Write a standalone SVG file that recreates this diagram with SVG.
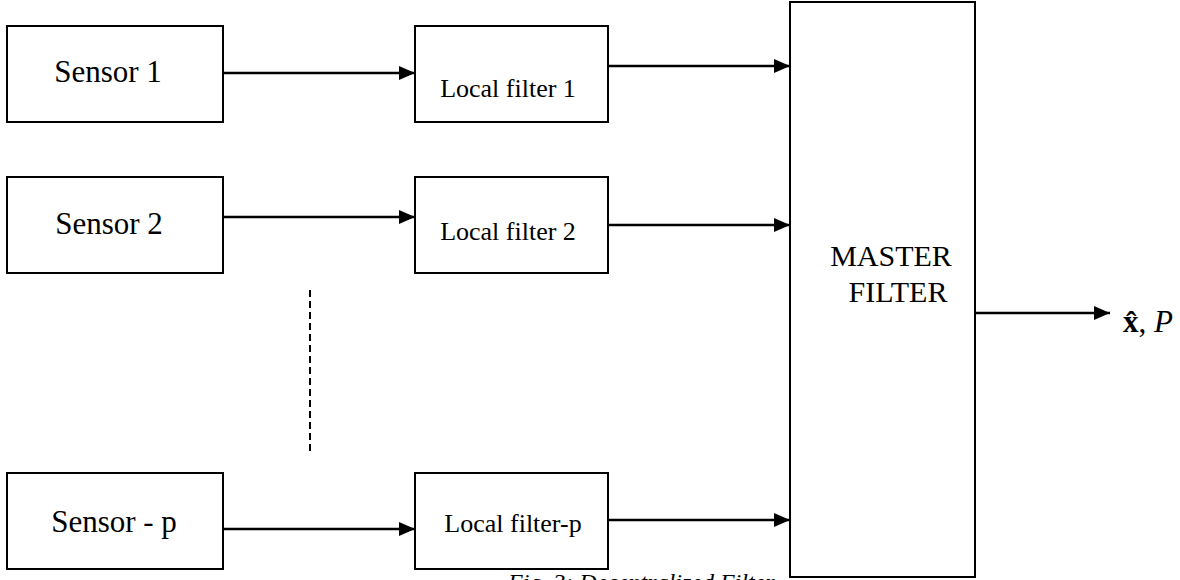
<svg xmlns="http://www.w3.org/2000/svg" width="1180" height="580" viewBox="0 0 1180 580">
<style>
.box{fill:#fff;stroke:#000;stroke-width:2}
.t{font-family:"Liberation Serif","Times New Roman",serif;fill:#000}
.s{font-size:31px;text-anchor:middle}
.l{font-size:26px;text-anchor:middle}
.m{font-size:30px;text-anchor:middle}
.c{stroke:#000;stroke-width:2.5;fill:none}
</style>
<defs>
<marker id="ah" markerWidth="16" markerHeight="14" refX="16" refY="7" orient="auto" markerUnits="userSpaceOnUse">
<path d="M0,0 L16,7 L0,14 Z" fill="#000"/>
</marker>
</defs>
<rect width="1180" height="580" fill="#fff"/>
<text class="t" x="508" y="590" font-size="24" font-style="italic">Fig. 3: Decentralized Filter</text>
<g id="sensor1"><rect class="box" x="7" y="26" width="216" height="96"/><text class="t s" x="108" y="82">Sensor 1</text></g>
<g id="sensor2"><rect class="box" x="7" y="177" width="216" height="96"/><text class="t s" x="109" y="234">Sensor 2</text></g>
<g id="sensorp"><rect class="box" x="7" y="473" width="216" height="96"/><text class="t s" x="114" y="532">Sensor - p</text></g>
<g id="lf1"><rect class="box" x="415" y="26" width="193" height="96"/><text class="t l" x="508" y="97">Local filter 1</text></g>
<g id="lf2"><rect class="box" x="415" y="177" width="193" height="96"/><text class="t l" x="508" y="240">Local filter 2</text></g>
<g id="lfp"><rect class="box" x="415" y="473" width="193" height="96"/><text class="t l" x="513" y="532">Local filter-p</text></g>
<g id="master"><rect class="box" x="790" y="2" width="185" height="575"/><text class="t m" x="891" y="266">MASTER</text><text class="t m" x="898" y="302">FILTER</text></g>
<g id="connectors">
<line class="c" x1="223" y1="73" x2="415" y2="73" marker-end="url(#ah)"/>
<line class="c" x1="223" y1="217" x2="415" y2="217" marker-end="url(#ah)"/>
<line class="c" x1="223" y1="529" x2="415" y2="529" marker-end="url(#ah)"/>
<line class="c" x1="608" y1="66" x2="790" y2="66" marker-end="url(#ah)"/>
<line class="c" x1="608" y1="225" x2="790" y2="225" marker-end="url(#ah)"/>
<line class="c" x1="608" y1="520" x2="790" y2="520" marker-end="url(#ah)"/>
<line class="c" x1="975" y1="313" x2="1110" y2="313" marker-end="url(#ah)"/>
<line x1="310" y1="290" x2="310" y2="452" stroke="#000" stroke-width="2" stroke-dasharray="7,4"/>
</g>
<g id="output"><text class="t" x="1123" y="332" font-size="31"><tspan font-weight="bold">x̂</tspan>, <tspan font-style="italic">P</tspan></text></g>
</svg>
